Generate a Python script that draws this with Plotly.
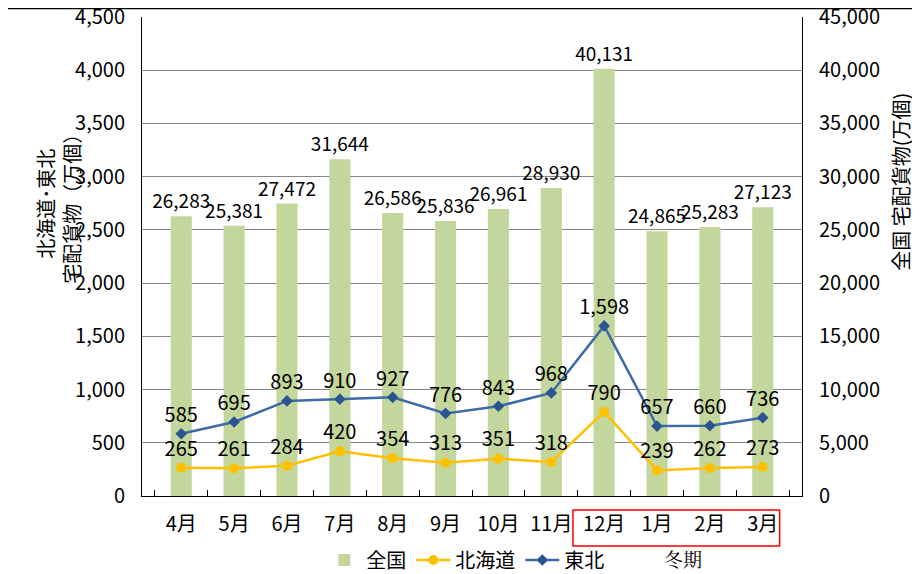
"""
宅配貨物の月別推移（全国・北海道・東北）
"""

import plotly.graph_objects as go

# データ
months = ["4月", "5月", "6月", "7月", "8月", "9月", "10月", "11月", "12月", "1月", "2月", "3月"]
zenkoku = [26283, 25381, 27472, 31644, 26586, 25836, 26961, 28930, 40131, 24865, 25283, 27123]
hokkaido = [265, 261, 284, 420, 354, 313, 351, 318, 790, 239, 262, 273]
tohoku = [585, 695, 893, 910, 927, 776, 843, 968, 1598, 657, 660, 736]

FONT = "Noto Sans CJK JP, Noto Sans, sans-serif"
FS = 20

fig = go.Figure()

# 全国（棒・右軸）
fig.add_trace(go.Bar(
    x=months, y=zenkoku, name="全国",
    marker=dict(color="#c3d69b", line=dict(width=0)),
    width=0.4,
    text=[f"{v:,}" for v in zenkoku],
    textposition="outside",
    constraintext="none",
    textfont=dict(size=19, color="#000000"),
    cliponaxis=False,
    yaxis="y",
))

# 北海道（左軸）
fig.add_trace(go.Scatter(
    x=months, y=hokkaido, name="北海道",
    mode="lines+markers+text",
    line=dict(color="#ffc000", width=2.5),
    marker=dict(symbol="circle", size=10, color="#ffc000"),
    text=[f"{v:,}" for v in hokkaido],
    textposition="top center",
    textfont=dict(size=FS, color="#000000"),
    cliponaxis=False,
    yaxis="y2",
))

# 東北（左軸）
fig.add_trace(go.Scatter(
    x=months, y=tohoku, name="東北",
    mode="lines+markers+text",
    line=dict(color="#3f6ba5", width=2.5),
    marker=dict(symbol="diamond", size=9, color="#2b5590"),
    text=[f"{v:,}" for v in tohoku],
    textposition="top center",
    textfont=dict(size=FS, color="#000000"),
    cliponaxis=False,
    yaxis="y2",
))

# ページ余白(8px)を考慮したサイズ
fig.update_layout(
    width=912, height=566,
    margin=dict(l=134, r=118, t=9, b=78),
    plot_bgcolor="#ffffff",
    paper_bgcolor="#ffffff",
    font=dict(family=FONT, size=FS, color="#000000"),
    showlegend=True,
    legend=dict(
        orientation="h",
        xref="container", yref="container",
        x=0.502, xanchor="center", y=0.0247, yanchor="middle",
        font=dict(size=FS), bgcolor="rgba(0,0,0,0)",
        traceorder="normal", itemwidth=34,
    ),
    xaxis=dict(
        type="category", automargin=False,
        showline=True, linecolor="#000000", linewidth=1,
        ticks="inside", ticklen=6, tickcolor="#000000",
        tickson="boundaries", ticklabelstandoff=10,
        tickfont=dict(size=FS),
    ),
    # 右軸：全国
    yaxis=dict(
        range=[0, 45000], dtick=5000, tickformat=",",
        side="right", automargin=False, ticklabeloverflow="allow",
        showline=True, linecolor="#000000", linewidth=1,
        showgrid=True, gridcolor="#868686", gridwidth=1,
        ticks="", tickfont=dict(size=FS), ticklabelstandoff=12,
        zeroline=False,
    ),
    # 左軸：北海道・東北
    yaxis2=dict(
        range=[0, 4500], dtick=500, tickformat=",",
        overlaying="y", side="left", automargin=False, ticklabeloverflow="allow",
        showline=True, linecolor="#000000", linewidth=1,
        showgrid=False, ticks="", tickfont=dict(size=FS), ticklabelstandoff=12,
        zeroline=False,
    ),
)

# 軸タイトル
fig.add_annotation(
    xref="paper", yref="paper", x=-0.126, y=0.61,
    text="北海道･東北<br>宅配貨物（万個）",
    textangle=-90, showarrow=False, font=dict(size=FS),
    xanchor="center", yanchor="middle",
)
fig.add_annotation(
    xref="paper", yref="paper", x=1.15, y=0.656,
    text="全国 宅配貨物(万個)",
    textangle=-90, showarrow=False, font=dict(size=FS),
    xanchor="center", yanchor="middle",
)

# 冬期の枠
fig.add_shape(
    type="rect", xref="x", yref="paper",
    x0=7.41, x1=11.32, y0=-0.1044, y1=-0.0292,
    line=dict(color="#ff0000", width=1.5),
)
fig.add_annotation(
    xref="paper", yref="paper", x=0.82, y=-0.131,
    text="冬期", showarrow=False,
    font=dict(size=19, family="Noto Serif CJK JP, serif"),
    xanchor="center", yanchor="middle",
)

# 上端の枠線
fig.add_shape(
    type="line", xref="paper", yref="paper",
    x0=-0.3, x1=1.3, y0=1.0175, y1=1.0175,
    line=dict(color="#000000", width=1.5),
)

fig.write_html("out.html")
